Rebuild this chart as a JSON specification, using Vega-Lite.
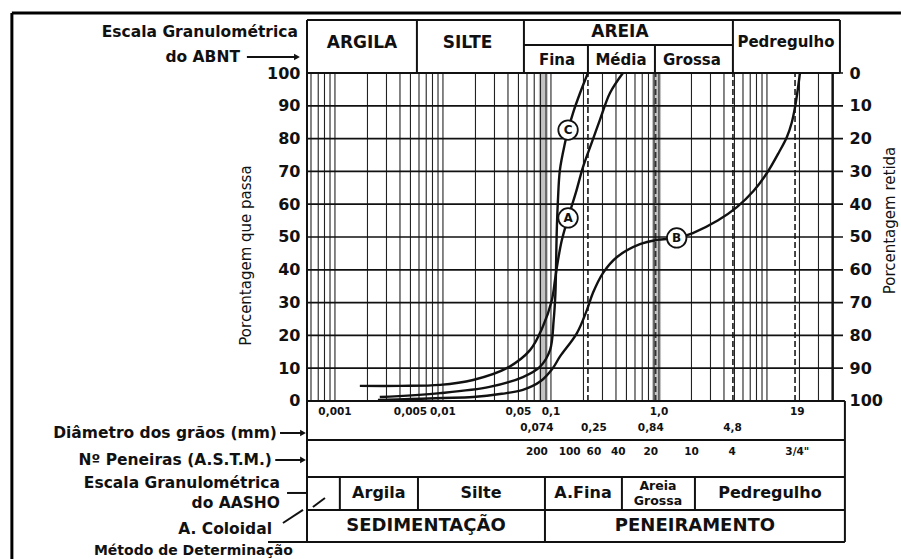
{
  "$schema": "https://vega.github.io/schema/vega-lite/v6.json",
  "width": 536,
  "height": 522,
  "autosize": {"type": "none"},
  "padding": {"left": 307, "top": 20, "right": 58, "bottom": 17},
  "background": "#ffffff",
  "config": {"view": {"stroke": null}},
  "datasets": {
    "vgrid": [
      {"d": 0.0006}, {"d": 0.0007}, {"d": 0.0008}, {"d": 0.0009},
      {"d": 0.001}, {"d": 0.002}, {"d": 0.003}, {"d": 0.004}, {"d": 0.005}, {"d": 0.006}, {"d": 0.007}, {"d": 0.008}, {"d": 0.009},
      {"d": 0.01}, {"d": 0.02}, {"d": 0.03}, {"d": 0.04}, {"d": 0.05}, {"d": 0.06}, {"d": 0.07}, {"d": 0.08}, {"d": 0.09},
      {"d": 0.1}, {"d": 0.2}, {"d": 0.3}, {"d": 0.4}, {"d": 0.5}, {"d": 0.6}, {"d": 0.7}, {"d": 0.8}, {"d": 0.9},
      {"d": 1}, {"d": 2}, {"d": 3}, {"d": 4}, {"d": 5}, {"d": 6}, {"d": 7}, {"d": 8}, {"d": 9},
      {"d": 10}, {"d": 20}, {"d": 30}, {"d": 40}
    ],
    "bands": [{"d": 0.085}, {"d": 0.95}],
    "dashgrid": [{"d": 0.22}, {"d": 0.93}, {"d": 4.84}, {"d": 18.2}],
    "hgrid": [
      {"p": 0}, {"p": 10}, {"p": 20}, {"p": 30}, {"p": 40}, {"p": 50},
      {"p": 60}, {"p": 70}, {"p": 80}, {"p": 90}, {"p": 100}
    ],
    "frame": [
      {"d": 1.02e-6, "p": 118.29, "d2": 174, "p2": 118.29},
      {"d": 1.02e-6, "p": 118.29, "d2": 1.02e-6, "p2": -48.5}
    ],
    "lines": [
      {"d": 0.000551, "p": 116.16, "d2": 47.4, "p2": 116.16},
      {"d": 0.000551, "p": 116.16, "d2": 0.000551, "p2": -42.99},
      {"d": 47.4, "p": 116.16, "d2": 47.4, "p2": 100},
      {"d": 0.000551, "p": 100, "d2": 47.4, "p2": 100},
      {"d": 0.00574, "p": 116.16, "d2": 0.00574, "p2": 100},
      {"d": 0.0562, "p": 116.16, "d2": 0.0562, "p2": 100},
      {"d": 4.84, "p": 116.16, "d2": 4.84, "p2": 100},
      {"d": 0.0562, "p": 108.54, "d2": 4.84, "p2": 108.54},
      {"d": 0.22, "p": 108.54, "d2": 0.22, "p2": 100},
      {"d": 0.918, "p": 108.54, "d2": 0.918, "p2": 100},
      {"d": 40.8, "p": 100, "d2": 40.8, "p2": 0},
      {"d": 52.7, "p": 0, "d2": 52.7, "p2": -42.99},
      {"d": 0.000551, "p": 0, "d2": 52.7, "p2": 0},
      {"d": 0.000551, "p": -11.89, "d2": 52.7, "p2": -11.89},
      {"d": 0.000551, "p": -23.17, "d2": 52.7, "p2": -23.17},
      {"d": 0.000551, "p": -33.23, "d2": 52.7, "p2": -33.23},
      {"d": 0.00024, "p": -42.99, "d2": 52.7, "p2": -42.99},
      {"d": 0.00111, "p": -23.17, "d2": 0.00111, "p2": -33.23},
      {"d": 0.00587, "p": -23.17, "d2": 0.00587, "p2": -33.23},
      {"d": 0.088, "p": -23.17, "d2": 0.088, "p2": -33.23},
      {"d": 0.454, "p": -23.17, "d2": 0.454, "p2": -33.23},
      {"d": 2.154, "p": -23.17, "d2": 2.154, "p2": -33.23},
      {"d": 0.088, "p": -33.23, "d2": 0.088, "p2": -42.99},
      {"d": 0.000153, "p": 104.88, "d2": 0.000445, "p2": 104.88},
      {"d": 0.00031, "p": -9.76, "d2": 0.000506, "p2": -9.76},
      {"d": 0.00028, "p": -17.99, "d2": 0.000506, "p2": -17.99},
      {"d": 0.00036, "p": -28.05, "d2": 0.000551, "p2": -28.05},
      {"d": 0.00033, "p": -37.2, "d2": 0.000506, "p2": -33.23},
      {"d": 0.000808, "p": -29.57, "d2": 0.000625, "p2": -32.32}
    ],
    "heads": [
      {"d": 0.000445, "p": 104.88},
      {"d": 0.000506, "p": -9.76},
      {"d": 0.000506, "p": -17.99}
    ],
    "curves": [
      {"curve": "A", "d": 0.0017, "p": 4.6},
      {"curve": "A", "d": 0.004, "p": 4.6},
      {"curve": "A", "d": 0.0094, "p": 4.9},
      {"curve": "A", "d": 0.019, "p": 6.4},
      {"curve": "A", "d": 0.039, "p": 10},
      {"curve": "A", "d": 0.064, "p": 15.5},
      {"curve": "A", "d": 0.084, "p": 22.6},
      {"curve": "A", "d": 0.102, "p": 30.8},
      {"curve": "A", "d": 0.109, "p": 36.9},
      {"curve": "A", "d": 0.115, "p": 42},
      {"curve": "A", "d": 0.126, "p": 49},
      {"curve": "A", "d": 0.144, "p": 55.8},
      {"curve": "A", "d": 0.17, "p": 63.5},
      {"curve": "A", "d": 0.198, "p": 71.3},
      {"curve": "A", "d": 0.24, "p": 79},
      {"curve": "A", "d": 0.284, "p": 85.7},
      {"curve": "A", "d": 0.352, "p": 93.9},
      {"curve": "A", "d": 0.464, "p": 100},
      {"curve": "B", "d": 0.0025, "p": 0.3},
      {"curve": "B", "d": 0.005, "p": 0.6},
      {"curve": "B", "d": 0.01, "p": 0.9},
      {"curve": "B", "d": 0.019, "p": 1.2},
      {"curve": "B", "d": 0.035, "p": 2.2},
      {"curve": "B", "d": 0.055, "p": 3.4},
      {"curve": "B", "d": 0.08, "p": 6},
      {"curve": "B", "d": 0.104, "p": 10},
      {"curve": "B", "d": 0.121, "p": 13.5},
      {"curve": "B", "d": 0.174, "p": 20.7},
      {"curve": "B", "d": 0.215, "p": 27.7},
      {"curve": "B", "d": 0.245, "p": 33},
      {"curve": "B", "d": 0.303, "p": 39},
      {"curve": "B", "d": 0.409, "p": 43.9},
      {"curve": "B", "d": 0.667, "p": 47.8},
      {"curve": "B", "d": 0.958, "p": 49.1},
      {"curve": "B", "d": 1.46, "p": 49.7},
      {"curve": "B", "d": 2.06, "p": 51.2},
      {"curve": "B", "d": 3.5, "p": 55},
      {"curve": "B", "d": 5.27, "p": 59.1},
      {"curve": "B", "d": 7.5, "p": 64},
      {"curve": "B", "d": 10, "p": 69.5},
      {"curve": "B", "d": 13, "p": 76},
      {"curve": "B", "d": 15.3, "p": 80.5},
      {"curve": "B", "d": 17, "p": 85},
      {"curve": "B", "d": 18.2, "p": 89.6},
      {"curve": "B", "d": 19.3, "p": 95},
      {"curve": "B", "d": 20.2, "p": 100},
      {"curve": "C", "d": 0.0026, "p": 1.2},
      {"curve": "C", "d": 0.0094, "p": 2.4},
      {"curve": "C", "d": 0.027, "p": 4.3},
      {"curve": "C", "d": 0.055, "p": 7.3},
      {"curve": "C", "d": 0.079, "p": 10.4},
      {"curve": "C", "d": 0.098, "p": 15.5},
      {"curve": "C", "d": 0.106, "p": 24.7},
      {"curve": "C", "d": 0.11, "p": 32.9},
      {"curve": "C", "d": 0.1115, "p": 41},
      {"curve": "C", "d": 0.113, "p": 51},
      {"curve": "C", "d": 0.116, "p": 61},
      {"curve": "C", "d": 0.121, "p": 70.4},
      {"curve": "C", "d": 0.135, "p": 78.7},
      {"curve": "C", "d": 0.144, "p": 82.6},
      {"curve": "C", "d": 0.16, "p": 87.8},
      {"curve": "C", "d": 0.186, "p": 93.9},
      {"curve": "C", "d": 0.22, "p": 100}
    ],
    "tags": [
      {"d": 0.144, "p": 55.8, "label": "A"},
      {"d": 1.46, "p": 49.7, "label": "B"},
      {"d": 0.144, "p": 82.6, "label": "C"}
    ],
    "headBig": [
      {"d": 0.00178, "p": 109.15, "label": "ARGILA"},
      {"d": 0.0169, "p": 109.15, "label": "SILTE"},
      {"d": 0.435, "p": 112.5, "label": "AREIA"}
    ],
    "headSmall": [
      {"d": 0.1137, "p": 103.96, "label": "Fina"},
      {"d": 0.445, "p": 103.96, "label": "Média"},
      {"d": 2.02, "p": 103.96, "label": "Grossa"},
      {"d": 15.0, "p": 109.45, "label": "Pedregulho"}
    ],
    "notes": [
      {"d": 0.000454, "p": 112.5, "label": "Escala Granulométrica"},
      {"d": 0.000132, "p": 104.88, "label": "do ABNT"},
      {"d": 0.00029, "p": -9.76, "label": "Diâmetro dos grãos (mm)"},
      {"d": 0.000261, "p": -17.99, "label": "Nº Peneiras (A.S.T.M.)"},
      {"d": 0.00031, "p": -25, "label": "Escala Granulométrica"},
      {"d": 0.00031, "p": -31.1, "label": "do AASHO"},
      {"d": 0.000261, "p": -38.9, "label": "A. Coloidal"}
    ],
    "notesSmall": [
      {"d": 0.000408, "p": -45.7, "label": "Método de Determinação"}
    ],
    "nums": [
      {"d": 0.001, "p": -3.35, "label": "0,001"},
      {"d": 0.005, "p": -3.35, "label": "0,005"},
      {"d": 0.01, "p": -3.35, "label": "0,01"},
      {"d": 0.05, "p": -3.35, "label": "0,05"},
      {"d": 0.1, "p": -3.35, "label": "0,1"},
      {"d": 1, "p": -3.35, "label": "1,0"},
      {"d": 19.1, "p": -3.35, "label": "19"},
      {"d": 0.074, "p": -8.23, "label": "0,074"},
      {"d": 0.25, "p": -8.23, "label": "0,25"},
      {"d": 0.84, "p": -8.23, "label": "0,84"},
      {"d": 4.8, "p": -8.23, "label": "4,8"},
      {"d": 0.074, "p": -15.55, "label": "200"},
      {"d": 0.149, "p": -15.55, "label": "100"},
      {"d": 0.25, "p": -15.55, "label": "60"},
      {"d": 0.42, "p": -15.55, "label": "40"},
      {"d": 0.84, "p": -15.55, "label": "20"},
      {"d": 2.0, "p": -15.55, "label": "10"},
      {"d": 4.76, "p": -15.55, "label": "4"},
      {"d": 19.1, "p": -15.55, "label": "3/4\""}
    ],
    "aasho": [
      {"d": 0.00255, "p": -28.05, "label": "Argila"},
      {"d": 0.0225, "p": -28.05, "label": "Silte"},
      {"d": 0.198, "p": -28.05, "label": "A.Fina"},
      {"d": 10.66, "p": -28.05, "label": "Pedregulho"}
    ],
    "aashoSmall": [
      {"d": 0.979, "p": -25.9, "label": "Areia"},
      {"d": 0.979, "p": -30.5, "label": "Grossa"}
    ],
    "method": [
      {"d": 0.00697, "p": -38.11, "label": "SEDIMENTAÇÃO"},
      {"d": 2.154, "p": -38.11, "label": "PENEIRAMENTO"}
    ]
  },
  "layer": [
    {
      "data": {"name": "bands"},
      "mark": {"type": "rule", "color": "#9a9a9a", "strokeWidth": 9, "opacity": 0.6},
      "encoding": {
        "x": {"field": "d", "type": "quantitative", "scale": {"type": "log", "domain": [0.000551, 50.6], "nice": false}, "axis": null},
        "y": {"datum": 0, "type": "quantitative", "scale": {"domain": [-43, 116.16], "nice": false, "zero": false}, "axis": null},
        "y2": {"datum": 100}
      }
    },
    {
      "data": {"name": "vgrid"},
      "mark": {"type": "rule", "color": "#222222", "strokeWidth": 1.1},
      "encoding": {
        "x": {"field": "d", "type": "quantitative", "scale": {"type": "log", "domain": [0.000551, 50.6], "nice": false}, "axis": null},
        "y": {"datum": 0, "type": "quantitative", "scale": {"domain": [-43, 116.16], "nice": false, "zero": false}, "axis": null},
        "y2": {"datum": 100}
      }
    },
    {
      "data": {"name": "dashgrid"},
      "mark": {"type": "rule", "color": "#333333", "strokeWidth": 1.8, "strokeDash": [6, 3]},
      "encoding": {
        "x": {"field": "d", "type": "quantitative", "scale": {"type": "log", "domain": [0.000551, 50.6], "nice": false}, "axis": null},
        "y": {"datum": 0, "type": "quantitative", "scale": {"domain": [-43, 116.16], "nice": false, "zero": false}, "axis": null},
        "y2": {"datum": 100}
      }
    },
    {
      "data": {"name": "hgrid"},
      "mark": {"type": "rule", "color": "#111111", "strokeWidth": 1.7},
      "encoding": {
        "y": {
          "field": "p", "type": "quantitative",
          "scale": {"domain": [-43, 116.16], "nice": false, "zero": false},
          "axis": {
            "orient": "left", "values": [0, 10, 20, 30, 40, 50, 60, 70, 80, 90, 100],
            "domain": false, "ticks": false, "grid": false, "labelPadding": 7,
            "labelFont": "DejaVu Sans", "labelFontSize": 16, "labelFontWeight": "bold", "labelColor": "#111111",
            "title": "Porcentagem que passa", "titleFont": "DejaVu Sans", "titleFontSize": 15, "titleFontWeight": "normal",
            "titleColor": "#111111", "titleAngle": 270, "titleX": -62, "titleY": 235, "titleAlign": "center", "titleBaseline": "middle"
          }
        }
      }
    },
    {
      "data": {"name": "lines"},
      "mark": {"type": "rule", "color": "#111111", "strokeWidth": 2},
      "encoding": {
        "x": {"field": "d", "type": "quantitative", "scale": {"type": "log", "domain": [0.000551, 50.6], "nice": false}, "axis": null},
        "x2": {"field": "d2"},
        "y": {"field": "p", "type": "quantitative", "scale": {"domain": [-43, 116.16], "nice": false, "zero": false}, "axis": null},
        "y2": {"field": "p2"}
      }
    },
    {
      "data": {"name": "frame"},
      "mark": {"type": "rule", "color": "#000000", "strokeWidth": 3},
      "encoding": {
        "x": {"field": "d", "type": "quantitative", "scale": {"type": "log", "domain": [0.000551, 50.6], "nice": false}, "axis": null},
        "x2": {"field": "d2"},
        "y": {"field": "p", "type": "quantitative", "scale": {"domain": [-43, 116.16], "nice": false, "zero": false}, "axis": null},
        "y2": {"field": "p2"}
      }
    },
    {
      "data": {"name": "heads"},
      "mark": {"type": "point", "shape": "triangle-right", "filled": true, "color": "#111111", "size": 45, "opacity": 1},
      "encoding": {
        "x": {"field": "d", "type": "quantitative", "scale": {"type": "log", "domain": [0.000551, 50.6], "nice": false}, "axis": null},
        "y": {"field": "p", "type": "quantitative", "scale": {"domain": [-43, 116.16], "nice": false, "zero": false}, "axis": null}
      }
    },
    {
      "data": {"name": "curves"},
      "mark": {"type": "line", "color": "#111111", "strokeWidth": 2.4, "interpolate": "catmull-rom"},
      "encoding": {
        "x": {"field": "d", "type": "quantitative", "scale": {"type": "log", "domain": [0.000551, 50.6], "nice": false}, "axis": null},
        "y": {
          "field": "p", "type": "quantitative",
          "scale": {"domain": [-43, 116.16], "nice": false, "zero": false},
          "axis": {
            "orient": "right", "values": [0, 10, 20, 30, 40, 50, 60, 70, 80, 90, 100],
            "labelExpr": "100 - datum.value",
            "domain": false, "ticks": false, "grid": false, "labelPadding": 6, "labelAlign": "left",
            "labelFont": "DejaVu Sans", "labelFontSize": 16, "labelFontWeight": "bold", "labelColor": "#111111",
            "title": "Porcentagem retida", "titleFont": "DejaVu Sans", "titleFontSize": 15, "titleFontWeight": "normal",
            "titleColor": "#111111", "titleAngle": 270, "titleX": 46, "titleY": 200, "titleAlign": "center", "titleBaseline": "middle"
          }
        },
        "detail": {"field": "curve", "type": "nominal"}
      }
    },
    {
      "data": {"name": "tags"},
      "mark": {"type": "point", "shape": "circle", "filled": true, "fill": "#ffffff", "stroke": "#111111", "strokeWidth": 1.8, "size": 380, "opacity": 1},
      "encoding": {
        "x": {"field": "d", "type": "quantitative", "scale": {"type": "log", "domain": [0.000551, 50.6], "nice": false}, "axis": null},
        "y": {"field": "p", "type": "quantitative", "scale": {"domain": [-43, 116.16], "nice": false, "zero": false}, "axis": null}
      }
    },
    {
      "data": {"name": "tags"},
      "mark": {"type": "text", "font": "DejaVu Sans", "fontWeight": "bold", "fontSize": 12, "color": "#111111", "align": "center", "baseline": "middle"},
      "encoding": {
        "x": {"field": "d", "type": "quantitative", "scale": {"type": "log", "domain": [0.000551, 50.6], "nice": false}, "axis": null},
        "y": {"field": "p", "type": "quantitative", "scale": {"domain": [-43, 116.16], "nice": false, "zero": false}, "axis": null},
        "text": {"field": "label"}
      }
    },
    {
      "data": {"name": "headBig"},
      "mark": {"type": "text", "font": "DejaVu Sans", "fontWeight": "bold", "fontSize": 17, "color": "#111111", "align": "center", "baseline": "middle"},
      "encoding": {
        "x": {"field": "d", "type": "quantitative", "scale": {"type": "log", "domain": [0.000551, 50.6], "nice": false}, "axis": null},
        "y": {"field": "p", "type": "quantitative", "scale": {"domain": [-43, 116.16], "nice": false, "zero": false}, "axis": null},
        "text": {"field": "label"}
      }
    },
    {
      "data": {"name": "headSmall"},
      "mark": {"type": "text", "font": "DejaVu Sans", "fontWeight": "bold", "fontSize": 15, "color": "#111111", "align": "center", "baseline": "middle"},
      "encoding": {
        "x": {"field": "d", "type": "quantitative", "scale": {"type": "log", "domain": [0.000551, 50.6], "nice": false}, "axis": null},
        "y": {"field": "p", "type": "quantitative", "scale": {"domain": [-43, 116.16], "nice": false, "zero": false}, "axis": null},
        "text": {"field": "label"}
      }
    },
    {
      "data": {"name": "notes"},
      "mark": {"type": "text", "font": "DejaVu Sans", "fontWeight": "bold", "fontSize": 15.5, "color": "#111111", "align": "right", "baseline": "middle"},
      "encoding": {
        "x": {"field": "d", "type": "quantitative", "scale": {"type": "log", "domain": [0.000551, 50.6], "nice": false}, "axis": null},
        "y": {"field": "p", "type": "quantitative", "scale": {"domain": [-43, 116.16], "nice": false, "zero": false}, "axis": null},
        "text": {"field": "label"}
      }
    },
    {
      "data": {"name": "notesSmall"},
      "mark": {"type": "text", "font": "DejaVu Sans", "fontWeight": "bold", "fontSize": 14, "color": "#111111", "align": "right", "baseline": "middle"},
      "encoding": {
        "x": {"field": "d", "type": "quantitative", "scale": {"type": "log", "domain": [0.000551, 50.6], "nice": false}, "axis": null},
        "y": {"field": "p", "type": "quantitative", "scale": {"domain": [-43, 116.16], "nice": false, "zero": false}, "axis": null},
        "text": {"field": "label"}
      }
    },
    {
      "data": {"name": "nums"},
      "mark": {"type": "text", "font": "DejaVu Sans", "fontWeight": "bold", "fontSize": 10.5, "color": "#111111", "align": "center", "baseline": "middle"},
      "encoding": {
        "x": {"field": "d", "type": "quantitative", "scale": {"type": "log", "domain": [0.000551, 50.6], "nice": false}, "axis": null},
        "y": {"field": "p", "type": "quantitative", "scale": {"domain": [-43, 116.16], "nice": false, "zero": false}, "axis": null},
        "text": {"field": "label"}
      }
    },
    {
      "data": {"name": "aasho"},
      "mark": {"type": "text", "font": "DejaVu Sans", "fontWeight": "bold", "fontSize": 16, "color": "#111111", "align": "center", "baseline": "middle"},
      "encoding": {
        "x": {"field": "d", "type": "quantitative", "scale": {"type": "log", "domain": [0.000551, 50.6], "nice": false}, "axis": null},
        "y": {"field": "p", "type": "quantitative", "scale": {"domain": [-43, 116.16], "nice": false, "zero": false}, "axis": null},
        "text": {"field": "label"}
      }
    },
    {
      "data": {"name": "aashoSmall"},
      "mark": {"type": "text", "font": "DejaVu Sans", "fontWeight": "bold", "fontSize": 12.5, "color": "#111111", "align": "center", "baseline": "middle"},
      "encoding": {
        "x": {"field": "d", "type": "quantitative", "scale": {"type": "log", "domain": [0.000551, 50.6], "nice": false}, "axis": null},
        "y": {"field": "p", "type": "quantitative", "scale": {"domain": [-43, 116.16], "nice": false, "zero": false}, "axis": null},
        "text": {"field": "label"}
      }
    },
    {
      "data": {"name": "method"},
      "mark": {"type": "text", "font": "DejaVu Sans", "fontWeight": "bold", "fontSize": 18, "color": "#111111", "align": "center", "baseline": "middle"},
      "encoding": {
        "x": {"field": "d", "type": "quantitative", "scale": {"type": "log", "domain": [0.000551, 50.6], "nice": false}, "axis": null},
        "y": {"field": "p", "type": "quantitative", "scale": {"domain": [-43, 116.16], "nice": false, "zero": false}, "axis": null},
        "text": {"field": "label"}
      }
    }
  ],
  "resolve": {"axis": {"y": "independent"}}
}
